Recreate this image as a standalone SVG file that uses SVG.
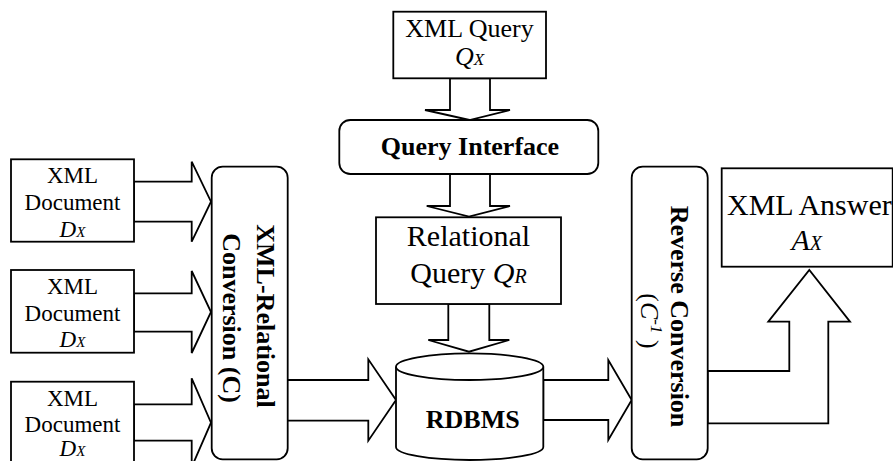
<svg xmlns="http://www.w3.org/2000/svg" width="893" height="461" viewBox="0 0 893 461">
<style>
.s{fill:#fff;stroke:#000;stroke-width:1.8}
.a{fill:#fff;stroke:#000;stroke-width:1.8;stroke-linejoin:miter}
text{font-family:"Liberation Serif","Times New Roman",serif;fill:#000}
.d{font-size:23px;text-anchor:middle}
.b{font-weight:bold}
.i{font-style:italic}
</style>
<rect width="893" height="461" fill="#fff"/>
<g id="connectors">
<polygon class="a" points="450,78.3 450,110 425,110 469.5,120 510,110 490,110 490,78.3"/>
<polygon class="a" points="450,174 450,206 426.7,206 469,216.5 510,206 490,206 490,174"/>
<polygon class="a" points="448.3,304 448.3,340 428.3,340 469,351.7 509.3,340 489.3,340 489.3,304"/>
<polygon class="a" points="134,181.7 191.7,181.7 191.7,161.7 211,201.7 191.7,241.7 191.7,221.7 134,221.7"/>
<polygon class="a" points="134,293.3 191.7,293.3 191.7,271 211,312 191.7,353 191.7,331.7 134,331.7"/>
<polygon class="a" points="134,404.3 191.7,404.3 191.7,378.3 211,422.7 191.7,467 191.7,440.7 134,440.7"/>
<polygon class="a" points="287,380 368.3,380 368.3,359.3 396,400 368.3,440.7 368.3,420.7 287,420.7"/>
<polygon class="a" points="543.3,380 608.3,380 608.3,360 631.7,400 608.3,440 608.3,420 543.3,420"/>
<polygon class="a" points="707.7,371 789.3,371 789.3,321.7 768.3,321.7 809.3,270 850,321.7 828.3,321.7 828.3,423.3 707.7,423.3"/>
</g>
<g id="doc1">
<rect class="s" x="11" y="159.3" width="123" height="82.4"/>
<text class="d" x="72.5" y="183.3">XML</text>
<text class="d" x="72.5" y="210">Document</text>
<text class="d" x="72.5" y="236.7"><tspan class="i">D</tspan><tspan class="i" font-size="15">X</tspan></text>
</g>
<g id="doc2">
<rect class="s" x="11" y="270" width="123" height="82.7"/>
<text class="d" x="72.5" y="294">XML</text>
<text class="d" x="72.5" y="320.7">Document</text>
<text class="d" x="72.5" y="347.4"><tspan class="i">D</tspan><tspan class="i" font-size="15">X</tspan></text>
</g>
<g id="doc3">
<rect class="s" x="11" y="381.7" width="123" height="90"/>
<text class="d" x="72.5" y="405.7">XML</text>
<text class="d" x="72.5" y="432.4">Document</text>
<text class="d" x="72.5" y="456"><tspan class="i">D</tspan><tspan class="i" font-size="15">X</tspan></text>
</g>
<g id="xml-relational-conversion">
<rect class="s" x="211.7" y="166.7" width="76" height="292.6" rx="11"/>
<text class="b" font-size="26" text-anchor="middle" transform="translate(257,316) rotate(90)">XML-Relational</text>
<text class="b" font-size="26" text-anchor="middle" transform="translate(223,318) rotate(90)">Conversion (C)</text>
</g>
<g id="xml-query">
<rect class="s" x="393.3" y="11.7" width="152.7" height="66.6"/>
<text font-size="26" text-anchor="middle" x="469.5" y="36.7">XML Query</text>
<text font-size="26" text-anchor="middle" x="469.5" y="65"><tspan class="i">Q</tspan><tspan class="i" font-size="17">X</tspan></text>
</g>
<g id="query-interface">
<rect class="s" x="339.3" y="120" width="259" height="54" rx="11"/>
<text class="b" font-size="26" text-anchor="middle" x="470" y="155">Query Interface</text>
</g>
<g id="relational-query">
<rect class="s" x="376" y="217.3" width="185" height="86.7"/>
<text font-size="30" text-anchor="middle" x="468.5" y="246">Relational</text>
<text font-size="30" text-anchor="middle" x="468.5" y="282.7">Query <tspan class="i">Q</tspan><tspan class="i" font-size="20">R</tspan></text>
</g>
<g id="rdbms">
<path class="s" d="M396,366.7 L396,447 A73.65,13 0 0 0 543.3,447 L543.3,366.7"/>
<ellipse class="s" cx="469.65" cy="366.7" rx="73.65" ry="13.3"/>
<text class="b" font-size="26" text-anchor="middle" x="472.7" y="428.3">RDBMS</text>
</g>
<g id="reverse-conversion">
<rect class="s" x="631.7" y="166.7" width="76" height="292.6" rx="11"/>
<text class="b" font-size="26" text-anchor="middle" transform="translate(671,316.5) rotate(90)">Reverse Conversion</text>
<text font-size="26" text-anchor="middle" transform="translate(641,321) rotate(90)">(<tspan class="i">C</tspan><tspan class="i" font-size="17" dy="-10">-1</tspan><tspan dy="10"> )</tspan></text>
</g>
<g id="xml-answer">
<rect class="s" x="721.7" y="168.3" width="171" height="98.4"/>
<text font-size="30" x="727" y="215">XML Answer</text>
<text font-size="30" text-anchor="middle" x="806.7" y="250"><tspan class="i">A</tspan><tspan class="i" font-size="20">X</tspan></text>
</g>
</svg>
